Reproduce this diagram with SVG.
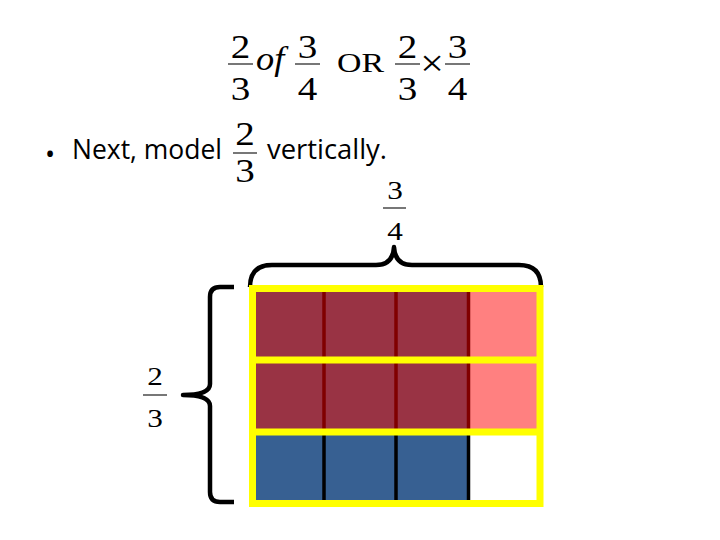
<svg xmlns="http://www.w3.org/2000/svg" width="720" height="540" viewBox="0 0 720 540">
<style>
.m{font-family:"Liberation Serif","Times New Roman",serif;fill:#000;text-anchor:middle}
.d{font-size:34px}
.s{font-size:26px}
.b{stroke:#555;stroke-width:1.6}
.t{font-family:"Open Sans","Liberation Sans",sans-serif;font-size:27px;fill:#000}
.br{fill:none;stroke:#000;stroke-width:4.5;stroke-linejoin:round}
.red{fill:#993344}.pink{fill:#FF8080}.blue{fill:#376092}.wh{fill:#fff}
.sr{stroke:#800000;stroke-width:3.5}.sb{stroke:#000;stroke-width:3.5}
.y{fill:none;stroke:#FFFF00;stroke-width:7}
</style>
<rect width="720" height="540" fill="#fff"/>
<g id="title">
<text class="m d" transform="translate(240.5 58) scale(1.15 1)">2</text>
<line class="b" x1="228" y1="64" x2="253" y2="64"/>
<text class="m d" transform="translate(240.5 100) scale(1.15 1)">3</text>
<text transform="translate(256 70) scale(1.1 1)" font-size="33" font-style="italic" font-family="Liberation Serif,serif">of</text>
<text class="m d" transform="translate(307.5 58) scale(1.15 1)">3</text>
<line class="b" x1="295" y1="64" x2="320" y2="64"/>
<text class="m d" transform="translate(307.5 100) scale(1.15 1)">4</text>
<text x="337" y="72" font-size="28" font-family="Liberation Serif,serif" textLength="47" lengthAdjust="spacingAndGlyphs">OR</text>
<text class="m d" transform="translate(407.5 58) scale(1.15 1)">2</text>
<line class="b" x1="395" y1="64" x2="420" y2="64"/>
<text class="m d" transform="translate(407.5 100) scale(1.15 1)">3</text>
<text class="m" transform="translate(432 76) scale(1.1 1)" font-size="38">×</text>
<text class="m d" transform="translate(457.5 58) scale(1.15 1)">3</text>
<line class="b" x1="445" y1="64" x2="470" y2="64"/>
<text class="m d" transform="translate(457.5 100) scale(1.15 1)">4</text>
</g>
<g id="bullet">
<text class="t" x="45" y="164" font-size="44">•</text>
<text class="t" x="72" y="159" textLength="150" lengthAdjust="spacingAndGlyphs">Next, model</text>
<text class="m d" transform="translate(245 145) scale(1.15 1)">2</text>
<line class="b" x1="233" y1="153" x2="257" y2="153"/>
<text class="m d" transform="translate(245 182) scale(1.15 1)">3</text>
<text class="t" x="267" y="159" textLength="120" lengthAdjust="spacingAndGlyphs">vertically.</text>
</g>
<g id="label-top">
<text class="m s" transform="translate(395 199) scale(1.2 1)">3</text>
<line class="b" x1="383" y1="208" x2="406" y2="208"/>
<text class="m s" transform="translate(395 240) scale(1.2 1)">4</text>
</g>
<g id="label-left">
<text class="m s" transform="translate(155 385) scale(1.2 1)">2</text>
<line class="b" x1="143" y1="395" x2="167" y2="395"/>
<text class="m s" transform="translate(155 427) scale(1.2 1)">3</text>
</g>
<g id="braces">
<path class="br" d="M250,287 Q250,265 272,265 L376,265 Q393,265 394,247 Q395,265 412,265 L519,265 Q541,265 541,287"/>
<path class="br" d="M234,287 L220,287 Q210,287 210,297 L210,384 Q210,395 183,395 Q210,395 210,406 L210,492 Q210,502 220,502 L234,502"/>
</g>
<g id="grid">
<rect class="red" x="252.5" y="288.5" width="215.5" height="71.5"/>
<rect class="pink" x="468" y="288.5" width="72" height="71.5"/>
<rect class="red" x="252.5" y="360" width="215.5" height="72"/>
<rect class="pink" x="468" y="360" width="72" height="72"/>
<rect class="blue" x="252.5" y="432" width="215.5" height="71.5"/>
<rect class="wh" x="468" y="432" width="72" height="71.5"/>
<line class="sr" x1="324" y1="288" x2="324" y2="432"/>
<line class="sr" x1="396" y1="288" x2="396" y2="432"/>
<line class="sr" x1="468.5" y1="288" x2="468.5" y2="432"/>
<line class="sb" x1="324" y1="432" x2="324" y2="504"/>
<line class="sb" x1="396" y1="432" x2="396" y2="504"/>
<line class="sb" x1="468.5" y1="432" x2="468.5" y2="504"/>
<rect class="y" x="252.5" y="288.5" width="287.5" height="215"/>
<line class="y" x1="252.5" y1="360" x2="540" y2="360"/>
<line class="y" x1="252.5" y1="432" x2="540" y2="432"/>
</g>
</svg>
